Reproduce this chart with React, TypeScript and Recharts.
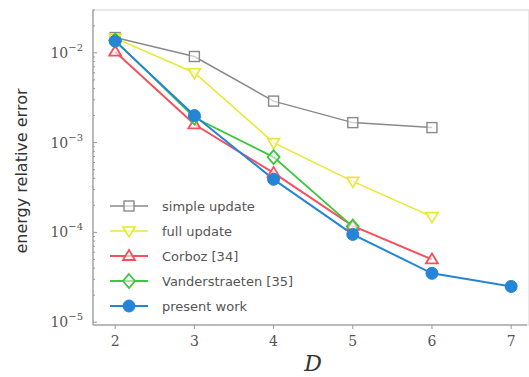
import React from 'react';
import { LineChart, Line, XAxis, YAxis } from 'recharts';

const dValues = [2, 3, 4, 5, 6, 7];
const simpleUpdate = [0.0148, 0.0091, 0.0029, 0.00167, 0.00147];
const fullUpdate = [0.0146, 0.006, 0.001, 0.00037, 0.00015];
const corboz = [0.0103, 0.0016, 0.00046, 0.000118, 0.00005];
const vanderstraeten = [0.0138, 0.0019, 0.00069, 0.000116];
const presentWork = [0.0135, 0.002, 0.00039, 0.000095, 0.000035, 0.000025];

const majorTicks = [1e-5, 1e-4, 1e-3, 1e-2];
const xTicks = [2, 3, 4, 5, 6, 7];

const series = [
  { key: 'simple', name: 'simple update', values: simpleUpdate, color: '#8a8a8a', shape: 'square', width: 1.5 },
  { key: 'full', name: 'full update', values: fullUpdate, color: '#e8e830', shape: 'down', width: 1.5 },
  { key: 'corboz', name: 'Corboz [34]', values: corboz, color: '#f5505c', shape: 'up', width: 2 },
  { key: 'vander', name: 'Vanderstraeten [35]', values: vanderstraeten, color: '#3cc83c', shape: 'diamond', width: 1.8 },
  { key: 'present', name: 'present work', values: presentWork, color: '#2484d6', shape: 'circle', width: 2 },
];

const data = dValues.map((d, i) => {
  const row: Record<string, number | undefined> = { d };
  series.forEach((s) => {
    row[s.key] = s.values[i];
  });
  return row;
});

// minor ticks for the log axis
const allYTicks: number[] = [];
majorTicks.forEach((m, i) => {
  allYTicks.push(m);
  if (i < majorTicks.length - 1) {
    for (let k = 2; k <= 9; k++) allYTicks.push(m * k);
  }
});
for (let k = 2; k <= 3; k++) allYTicks.push(1e-2 * k);

function Marker({ cx, cy, shape, color }: { cx: number; cy: number; shape: string; color: string }) {
  const s = 5;
  if (shape === 'square')
    return <rect x={cx - s} y={cy - s} width={2 * s} height={2 * s} fill="#fff" fillOpacity={0.6} stroke={color} strokeWidth={1.4} />;
  if (shape === 'down')
    return <polygon points={`${cx - 6},${cy - 4} ${cx + 6},${cy - 4} ${cx},${cy + 6}`} fill="#fff" fillOpacity={0.6} stroke={color} strokeWidth={1.6} />;
  if (shape === 'up')
    return <polygon points={`${cx - 6},${cy + 4} ${cx + 6},${cy + 4} ${cx},${cy - 6}`} fill="#fff" fillOpacity={0.6} stroke={color} strokeWidth={1.8} />;
  if (shape === 'diamond')
    return <polygon points={`${cx},${cy - 7} ${cx + 6},${cy} ${cx},${cy + 7} ${cx - 6},${cy}`} fill="#fff" fillOpacity={0.5} stroke={color} strokeWidth={1.8} />;
  return <circle cx={cx} cy={cy} r={6} fill={color} stroke={color} />;
}

function YTick({ x, y, payload }: any) {
  const v = payload.value;
  const exp = Math.round(Math.log10(v));
  const isMajor = Math.abs(Math.log10(v) - exp) < 1e-6;
  return (
    <g>
      <line x1={x + 8} x2={x + 8 + (isMajor ? 4 : 2)} y1={y} y2={y} stroke="#999" strokeWidth={1} />
      {isMajor && (
        <text x={x - 2} y={y + 5} textAnchor="end" fill="#555" style={{ fontFamily: 'DejaVu Serif', fontSize: 14 }}>
          10<tspan dy={-7} style={{ fontSize: 10 }}>{`\u2212${-exp}`}</tspan>
        </text>
      )}
    </g>
  );
}

function XTick({ x, y, payload }: any) {
  return (
    <g>
      <line x1={x} x2={x} y1={y - 8} y2={y - 4} stroke="#999" strokeWidth={1} />
      <text x={x} y={y + 13} textAnchor="middle" fill="#555" style={{ fontFamily: 'DejaVu Serif', fontSize: 14 }}>
        {payload.value}
      </text>
    </g>
  );
}

function LegendBox({ x, y }: { x: number; y: number }) {
  return (
    <g>
      {series.map((s, i) => {
        const cy = y + i * 25;
        return (
          <g key={s.key}>
            <line x1={x} x2={x + 38} y1={cy} y2={cy} stroke={s.color} strokeWidth={s.width} />
            <Marker cx={x + 19} cy={cy} shape={s.shape} color={s.color} />
            <text x={x + 52} y={cy + 5} fill="#555" style={{ fontFamily: 'DejaVu Sans', fontSize: 13 }}>
              {s.name}
            </text>
          </g>
        );
      })}
    </g>
  );
}

export default function App() {
  return (
    <div style={{ position: 'absolute', left: 0, top: 0, width: 529, height: 377, background: '#fff' }}>
      <LineChart width={529} height={377} data={data} margin={{ top: 10, right: 2, bottom: 0, left: 0 }}>
        <rect x={93} y={10} width={436} height={315} fill="none" stroke="#e2e2e2" strokeWidth={1.5} />
        <XAxis
          dataKey="d"
          type="number"
          domain={[1.72, 7.2]}
          ticks={xTicks}
          tick={<XTick />}
          tickLine={false}
          axisLine={{ stroke: '#aaa', strokeWidth: 1.5 }}
          interval={0}
          height={52}
        />
        <YAxis
          type="number"
          scale="log"
          domain={[9.3e-6, 0.03]}
          ticks={allYTicks}
          tick={<YTick />}
          tickLine={false}
          axisLine={{ stroke: '#aaa', strokeWidth: 1.5 }}
          interval={0}
          width={93}
          allowDataOverflow
        />
        {series.map((s) => (
          <Line
            key={s.key}
            dataKey={s.key}
            name={s.name}
            stroke={s.color}
            strokeWidth={s.width}
            isAnimationActive={false}
            connectNulls={false}
            dot={(p: any) =>
              p.value == null ? <g key={p.key} /> : (
                <g key={p.key}>
                  <Marker cx={p.cx} cy={p.cy} shape={s.shape} color={s.color} />
                </g>
              )
            }
            activeDot={false}
          />
        ))}
        <LegendBox x={110} y={206} />
        <text
          x={22}
          y={171}
          transform="rotate(-90 22 171)"
          textAnchor="middle"
          dominantBaseline="middle"
          fill="#333"
          style={{ fontFamily: 'DejaVu Sans', fontSize: 16 }}
        >
          energy relative error
        </text>
        <text x={313} y={371} textAnchor="middle" fill="#333" style={{ fontFamily: 'DejaVu Serif', fontSize: 22, fontStyle: 'italic' }}>
          D
        </text>
      </LineChart>
    </div>
  );
}
